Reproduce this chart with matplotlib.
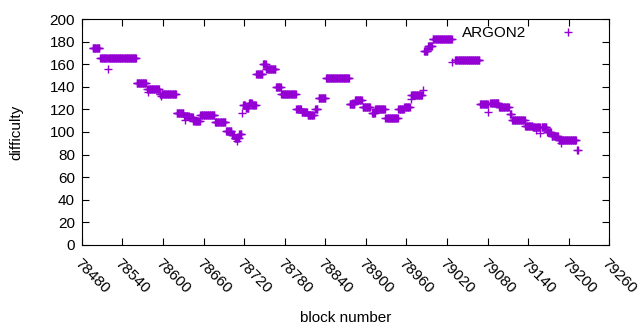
import matplotlib
matplotlib.use("Agg")
import matplotlib.pyplot as plt
import numpy as np

plt.rcParams['font.family'] = ['Liberation Sans', 'DejaVu Sans']

# runs of blocks at one difficulty: first block, last block, difficulty
run_start = [78496, 78507, 78561, 78576, 78595, 78620, 78631, 78639, 78645, 78655,
             78677, 78693, 78702, 78706, 78713, 78717, 78718, 78722, 78727, 78732,
             78738, 78748, 78753, 78767, 78775, 78797, 78805, 78814, 78825, 78830,
             78841, 78876, 78884, 78895, 78909, 78914, 78929, 78948, 78957, 78967,
             78985, 78992, 78999, 79032, 79069, 79084, 79097, 79113, 79116, 79136,
             79147, 79160, 79168, 79175, 79185, 79212]
run_end = [78506, 78560, 78575, 78594, 78619, 78630, 78638, 78644, 78654, 78676,
           78692, 78701, 78705, 78712, 78716, 78717, 78721, 78726, 78731, 78737,
           78747, 78752, 78766, 78774, 78796, 78804, 78813, 78823, 78828, 78840,
           78875, 78883, 78894, 78906, 78913, 78928, 78947, 78956, 78966, 78983,
           78991, 78998, 79027, 79068, 79080, 79096, 79111, 79115, 79135, 79146,
           79157, 79167, 79174, 79184, 79211, 79213]
run_diff = [174, 166, 143, 138, 134, 117, 114, 113, 110, 115,
            109, 101, 97, 95, 98, 117, 124, 121, 126, 124,
            151, 160, 156, 140, 134, 120, 118, 115, 120, 130,
            148, 125, 128, 122, 117, 120, 112, 120, 122, 133,
            172, 176, 182, 164, 125, 126, 122, 116, 111, 105,
            104, 104, 100, 96.5, 93, 84]

# single blocks off their run
odd_block = [78518, 78577, 78597, 78633, 78710, 78966, 78985, 79028, 79081, 79152, 79158, 79189]
odd_diff = [156, 135, 132, 111, 92, 129, 137, 162, 118, 102, 99, 90]

blocks = []
diffs = []
for s, e, d in zip(run_start, run_end, run_diff):
    for b in range(s, e + 1):
        if b in odd_block:
            continue
        blocks.append(b)
        diffs.append(d)
blocks += odd_block
diffs += odd_diff

fig = plt.figure(figsize=(6.4, 3.3), dpi=100)
ax = fig.add_axes([0.128, 0.258, 0.824, 0.684])
ax.plot(blocks, diffs, '+', color='#9400D3', markersize=5.5, markeredgewidth=1.0,
        label='ARGON2')

ax.set_xlim(78480, 79260)
ax.set_ylim(0, 200)
ax.set_xticks(np.arange(78480, 79261, 60))
ax.set_yticks(np.arange(0, 201, 20))
ax.tick_params(direction='in', top=True, right=True, length=5, labelsize=11, pad=5)
for lab in ax.get_xticklabels():
    lab.set_rotation(-45)
    lab.set_ha('left')
    lab.set_va('top')
    lab.set_rotation_mode('anchor')
ax.tick_params(axis='x', pad=8)
ax.set_xlabel('block number', fontsize=11, labelpad=11)
ax.set_ylabel('difficulty', fontsize=11, labelpad=19)
ax.legend(loc='upper right', bbox_to_anchor=(0.962, 0.995), frameon=False,
          markerfirst=False, fontsize=11, handlelength=2, handletextpad=1.7,
          borderaxespad=0)

fig.savefig('out.png', dpi=100)
